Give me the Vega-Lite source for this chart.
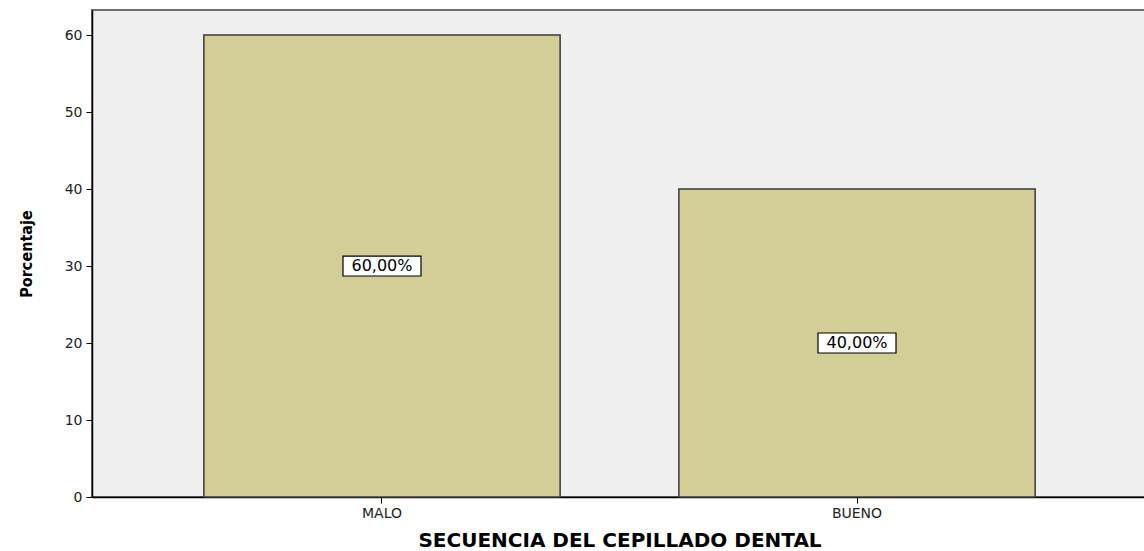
{
  "$schema": "https://vega.github.io/schema/vega-lite/v6.json",
  "autosize": {"type": "none"},
  "padding": {"left": 92, "top": 10, "right": 0, "bottom": 54},
  "width": 1055,
  "height": 487,
  "background": "white",
  "view": {"fill": "#EFEFEF", "stroke": "#6E6E6E", "strokeWidth": 2},
  "data": {
    "values": [
      {"Categoria": "MALO", "Porcentaje": 60, "Etiqueta": "60,00%"},
      {"Categoria": "BUENO", "Porcentaje": 40, "Etiqueta": "40,00%"}
    ]
  },
  "encoding": {
    "x": {
      "field": "Categoria",
      "type": "nominal",
      "sort": null,
      "scale": {"paddingInner": 0.25, "paddingOuter": 0.2355},
      "axis": {
        "title": "SECUENCIA DEL CEPILLADO DENTAL",
        "titleFont": "DejaVu Sans",
        "titleFontSize": 20,
        "titleFontWeight": "bold",
        "titleColor": "#000000",
        "titlePadding": 10,
        "labelFont": "DejaVu Sans",
        "labelFontSize": 14,
        "labelColor": "#222222",
        "labelAngle": 0,
        "labelPadding": 3,
        "tickSize": 6,
        "tickColor": "#000000",
        "domainColor": "#000000",
        "domainWidth": 1.5
      }
    }
  },
  "layer": [
    {
      "mark": {"type": "bar", "fill": "#D3CE97", "stroke": "#3A3A3A", "strokeWidth": 1.5},
      "encoding": {
        "y": {
          "field": "Porcentaje",
          "type": "quantitative",
          "scale": {"domain": [0, 63.25], "nice": false},
          "axis": {
            "title": "Porcentaje",
            "titleFont": "DejaVu Sans Condensed",
            "titleFontSize": 16,
            "titleFontWeight": "bold",
            "titleColor": "#000000",
            "titlePadding": 30,
            "values": [0, 10, 20, 30, 40, 50, 60],
            "grid": false,
            "labelFont": "DejaVu Sans",
            "labelFontSize": 14,
            "labelColor": "#222222",
            "labelPadding": 4,
            "tickSize": 6,
            "tickColor": "#000000",
            "domainColor": "#000000",
            "domainWidth": 1.5
          }
        }
      }
    },
    {
      "transform": [{"calculate": "datum.Porcentaje / 2", "as": "Mitad"}],
      "mark": {
        "type": "point",
        "shape": "M-1,-0.256L1,-0.256L1,0.256L-1,0.256Z",
        "size": 6084,
        "filled": true,
        "fill": "#FFFFFF",
        "stroke": "#000000",
        "strokeWidth": 1.2,
        "opacity": 1
      },
      "encoding": {
        "y": {"field": "Mitad", "type": "quantitative"}
      }
    },
    {
      "transform": [{"calculate": "datum.Porcentaje / 2", "as": "Mitad"}],
      "mark": {"type": "text", "font": "DejaVu Sans", "fontSize": 16, "color": "#000000", "baseline": "middle", "align": "center"},
      "encoding": {
        "y": {"field": "Mitad", "type": "quantitative"},
        "text": {"field": "Etiqueta", "type": "nominal"}
      }
    }
  ]
}
